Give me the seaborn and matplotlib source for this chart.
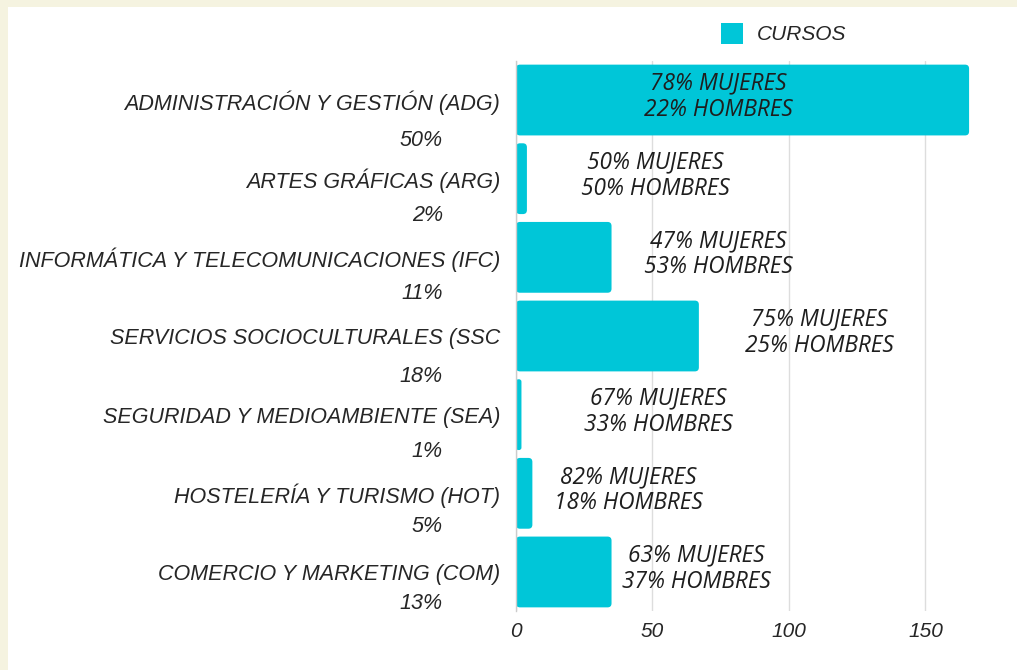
import matplotlib
matplotlib.use("Agg")
import matplotlib.pyplot as plt
import matplotlib.transforms as mtransforms
from matplotlib import font_manager as fm
from matplotlib.patches import Rectangle, FancyBboxPatch
import seaborn as sns
import pandas as pd

# ---- data ----
categories = [
    "ADMINISTRACIÓN Y GESTIÓN (ADG)",
    "ARTES GRÁFICAS (ARG)",
    "INFORMÁTICA Y TELECOMUNICACIONES (IFC)",
    "SERVICIOS SOCIOCULTURALES (SSC",
    "SEGURIDAD Y MEDIOAMBIENTE (SEA)",
    "HOSTELERÍA Y TURISMO (HOT)",
    "COMERCIO Y MARKETING (COM)",
]
cursos = [166, 4, 35, 67, 2, 6, 35]
share_labels = ["50%", "2%", "11%", "18%", "1%", "5%", "13%"]
mujeres = [78, 50, 47, 75, 67, 82, 63]
hombres = [22, 50, 53, 25, 33, 18, 37]
x_ticks = [0, 50, 100, 150]
series_name = "CURSOS"

# ---- layout (not data) ----
annot_x = [74, 51, 74, 111, 52, 41, 66]          # centre of annotation text, data units
pct_offset_px = [40, 37, 36, 40, 37, 33, 32]       # percent line below category label

BAR = "#00C6D8"
TXT = "#262626"
CREAM = "#F5F3E0"

sns.set_theme(style="white")
plt.rcParams["font.family"] = ["Liberation Sans", "DejaVu Sans"]


def pick_italic(fnames, size):
    for name in fnames:
        for f in fm.fontManager.ttflist:
            if f.fname.split("/")[-1] == name:
                return fm.FontProperties(fname=f.fname, size=size)
    return fm.FontProperties(family="DejaVu Sans", style="italic", size=size)


annot_fp = pick_italic(["OpenSans-Italic.ttf", "Roboto-Italic.ttf"], 16.3)

W, H = 1017, 670
fig = plt.figure(figsize=(W / 100, H / 100), dpi=100, facecolor=CREAM)
fig.patches.append(Rectangle((8 / W, 0), 1, 1 - 7 / H, transform=fig.transFigure,
                             facecolor="white", edgecolor="none", zorder=-10))

ax_left, ax_right, ax_top, ax_bot = 516, 980, 60.7, 611.3
ax = fig.add_axes([ax_left / W, 1 - ax_bot / H, (ax_right - ax_left) / W, (ax_bot - ax_top) / H])
ax.set_facecolor("none")

df = pd.DataFrame({"cat": categories, "val": cursos})
sns.barplot(data=df, x="val", y="cat", color=BAR, width=0.9, ax=ax,
            orient="h", saturation=1, zorder=2)

xmax = 170
ax.set_xlim(0, xmax)
ax.set_ylim(len(categories) - 0.5, -0.5)

# rounded bar corners
px_per_x = (ax_right - ax_left) / xmax
px_per_y = (ax_bot - ax_top) / len(categories)
for p in list(ax.patches):
    x0, y0, w, h = p.get_x(), p.get_y(), p.get_width(), p.get_height()
    r = min(4 / px_per_x, w / 2.2)
    fb = FancyBboxPatch((x0, y0), w, h, boxstyle=f"round,pad=0,rounding_size={r}",
                        mutation_aspect=px_per_x / px_per_y,
                        facecolor=BAR, edgecolor="none", zorder=2)
    p.set_visible(False)
    ax.add_patch(fb)

# grid
ax.set_xticks(x_ticks)
ax.xaxis.grid(True, color="#DDDDDD", linewidth=1, zorder=0)
ax.yaxis.grid(False)
for s in ["top", "right", "bottom"]:
    ax.spines[s].set_visible(False)
ax.spines["left"].set_color("#CCCCCC")
ax.spines["left"].set_linewidth(1)
ax.spines["left"].set_zorder(3)

ax.tick_params(axis="x", length=0, pad=8, labelsize=15, labelcolor=TXT)
for t in ax.get_xticklabels():
    t.set_fontstyle("italic")
ax.tick_params(axis="y", length=0, pad=11.5, labelsize=15.5, labelcolor=TXT)
for t in ax.get_yticklabels():
    t.set_fontstyle("italic")
ax.set_xlabel("")
ax.set_ylabel("")

# percent-share labels below the category labels
ytr = ax.get_yaxis_transform()
for i, (lab, off) in enumerate(zip(share_labels, pct_offset_px)):
    tr = mtransforms.offset_copy(ytr, fig=fig, x=0, y=-off, units="dots")
    ax.text((443 - ax_left) / (ax_right - ax_left), i, lab, transform=tr,
            ha="right", va="center", fontsize=15.5, fontstyle="italic", color=TXT)

# gender annotations
for i, (xm, m, h) in enumerate(zip(annot_x, mujeres, hombres)):
    ax.text(xm, i - 0.04, f"{m}% MUJERES\n{h}% HOMBRES", ha="center", va="center",
            fontproperties=annot_fp, color="#1E1E1E", linespacing=1.12, zorder=4)

# legend
handle = Rectangle((0, 0), 1, 1, facecolor=BAR, edgecolor="none")
leg = ax.legend([handle], [series_name], loc="upper left", bbox_to_anchor=(721 / W, 1 - 23 / H),
                bbox_transform=fig.transFigure, frameon=False, borderpad=0,
                borderaxespad=0, handlelength=1.05, handleheight=1.15,
                handletextpad=0.65, prop={"size": 15, "style": "italic"})
for t in leg.get_texts():
    t.set_color(TXT)

fig.savefig("out.png", dpi=100, facecolor=CREAM)
